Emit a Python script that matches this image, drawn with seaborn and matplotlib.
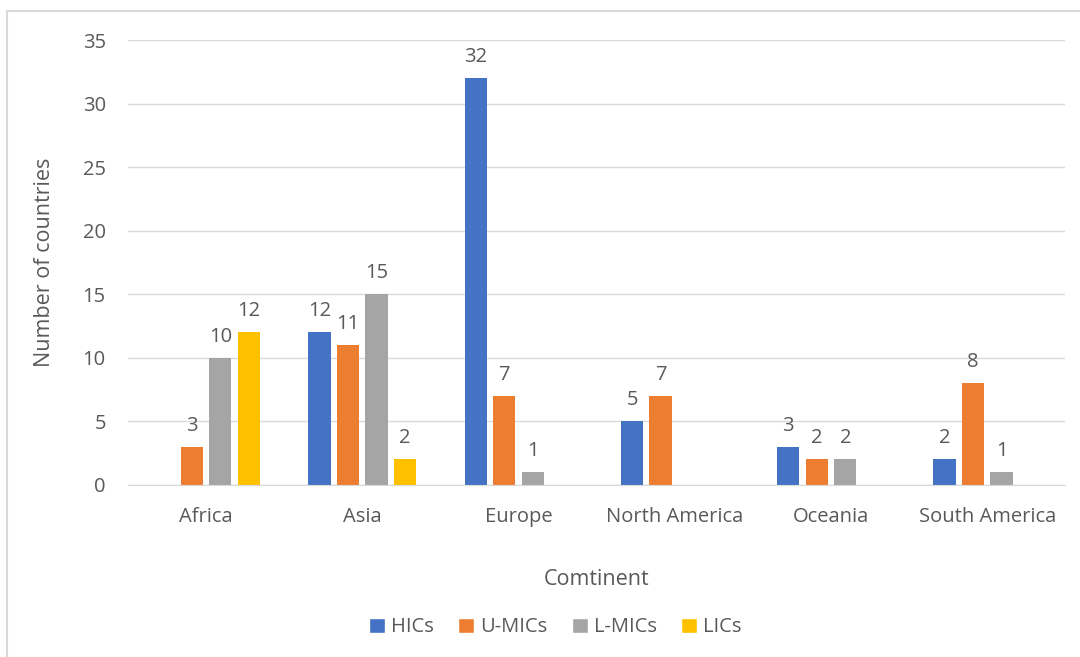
import pandas as pd
import matplotlib.pyplot as plt
import seaborn as sns
from matplotlib.lines import Line2D
from matplotlib.patches import Patch

continents = ["Africa", "Asia", "Europe", "North America", "Oceania", "South America"]
groups = ["HICs", "U-MICs", "L-MICs", "LICs"]
hics = [0, 12, 32, 5, 3, 2]
umics = [3, 11, 7, 7, 2, 8]
lmics = [10, 15, 1, 0, 2, 1]
lics = [12, 2, 0, 0, 0, 0]
colors = ["#4472C4", "#ED7D31", "#A5A5A5", "#FFC000"]

rows = []
for g, vals in zip(groups, [hics, umics, lmics, lics]):
    for c, v in zip(continents, vals):
        rows.append({"Continent": c, "Group": g, "Count": v})
df = pd.DataFrame(rows)

sns.set_style("white")
plt.rcParams["font.family"] = ["Open Sans", "DejaVu Sans"]
txt = "#595959"

fig = plt.figure(figsize=(10.8, 6.57), dpi=100)
ax = fig.add_axes([0.1185, 0.262, 0.868, 0.677])

sns.barplot(data=df, x="Continent", y="Count", hue="Group", order=continents,
            hue_order=groups, palette=colors, width=0.73, gap=0.22,
            linewidth=0, saturation=1, legend=False, ax=ax)

for cont in ax.containers:
    labels = [f"{b.get_height():.0f}" if b.get_height() > 0 else "" for b in cont]
    ax.bar_label(cont, labels=labels, padding=8, fontsize=14.5, color=txt)

ax.set_ylim(0, 35)
ax.set_yticks(range(0, 36, 5))
ax.set_xlim(-0.5, 5.5)
ax.yaxis.grid(True, color="#D9D9D9", linewidth=1)
ax.set_axisbelow(True)
for s in ["top", "right", "left"]:
    ax.spines[s].set_visible(False)
ax.spines["bottom"].set_color("#D9D9D9")
ax.tick_params(axis="both", length=0, labelsize=14.5, labelcolor=txt)
ax.tick_params(axis="y", pad=16)
ax.tick_params(axis="x", pad=16)
ax.set_xlabel("Comtinent", fontsize=15.5, color=txt, labelpad=30)
ax.set_ylabel("Number of countries", fontsize=15.5, color=txt, labelpad=20)

handles = [Patch(facecolor=c, label=g) for c, g in zip(colors, groups)]
fig.legend(handles=handles, loc="center", bbox_to_anchor=(0.514, 0.045), ncol=4,
           frameon=False, fontsize=14.5, labelcolor=txt, handlelength=0.8,
           handleheight=0.8, handletextpad=0.3, columnspacing=1.2)

# chart frame (left and top edges visible)
fig.add_artist(Line2D([0.0068, 0.0068], [0.0, 0.983], color="#D9D9D9", linewidth=1.5))
fig.add_artist(Line2D([0.0068, 1.0], [0.983, 0.983], color="#D9D9D9", linewidth=1.5))

fig.savefig("out.png", dpi=100)
